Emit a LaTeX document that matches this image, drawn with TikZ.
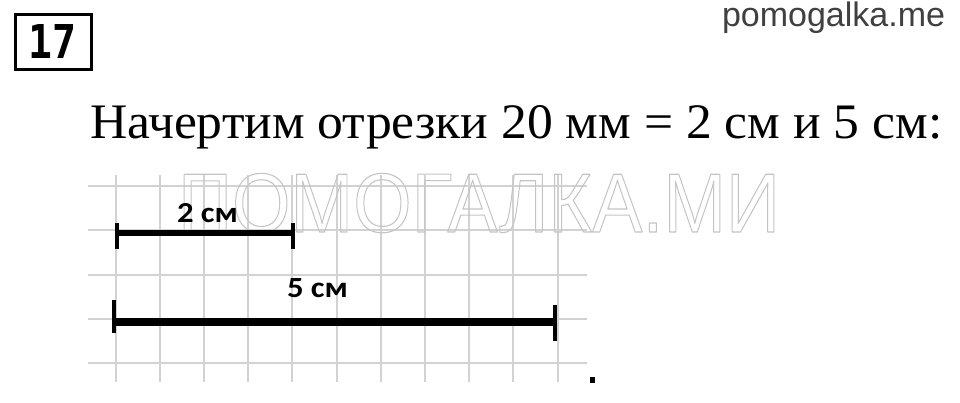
\documentclass[tikz,border=0pt]{standalone}
\usepackage{fontspec}
\setmainfont{Liberation Serif}
\newfontfamily\wmfont{Liberation Sans}
\newfontfamily\labfont{Carlito}
\newfontfamily\numfont{DejaVu Sans Mono}
\definecolor{gridgray}{HTML}{D2D2D2}
\definecolor{wmgray}{HTML}{C4C4C4}
\definecolor{sitegray}{HTML}{404040}
\tikzset{
  txt/.style={inner sep=0pt, outer sep=0pt},
  gridline/.style={draw=gridgray, line width=2pt},
  seg/.style={line width=6.5pt},
  tick/.style={line width=4pt},
}
\begin{document}
\begin{tikzpicture}[x=1pt,y=-1pt]
\useasboundingbox[fill=white] (0,0) rectangle (960,402);
% grid
\foreach \k in {0,...,10} {
  \draw[gridline] ({115.5+44.2*\k},175) -- ({115.5+44.2*\k},382);
}
\foreach \k in {0,...,4} {
  \draw[gridline] (88,{186+44.25*\k}) -- (587,{186+44.25*\k});
}
% watermark
\node[txt, anchor=base west] (wm) at (178,232)
  {\scalebox{0.895}[1]{\color{wmgray}\special{pdf:code 1 Tr 1.1 w 1 j}\wmfont\fontsize{84pt}{84pt}\selectfont ПОМОГАЛКА.МИ\special{pdf:code 0 Tr}}};
% number box
\node[txt, draw, line width=3pt, minimum width=76pt, minimum height=55pt] (num) at (53,41.5)
  {\resizebox{48pt}{34pt}{\numfont\bfseries 17}};
% site
\node[txt, anchor=base west, text=sitegray] (site) at (722,26)
  {\wmfont\fontsize{34pt}{34pt}\selectfont pomogalka.me};
% title
\node[txt, anchor=base west] (title) at (90,138)
  {\resizebox{852pt}{33pt}{Начертим отрезки 20 мм = 2 см и 5 см:}};
% segment 1
\coordinate (a1) at (117,233);
\coordinate (b1) at (293,233);
\draw[seg] (a1) -- (b1);
\draw[tick] (117,223) -- (117,249);
\draw[tick] (293,223) -- (293,249);
\node[txt, anchor=base west] (l1) at (177,222)
  {\resizebox{61pt}{19pt}{\labfont\bfseries 2 см}};
% segment 2
\coordinate (a2) at (114,322);
\coordinate (b2) at (555,322);
\draw[seg, line width=7.5pt] (a2) -- (b2);
\draw[tick] (114,300) -- (114,333);
\draw[tick] (555,305) -- (555,341);
\node[txt, anchor=base west] (l2) at (287,297)
  {\resizebox{61pt}{19pt}{\labfont\bfseries 5 см}};
% final dot
\node[fill=black, inner sep=0pt, minimum size=5.5pt] (dot) at (592.5,380) {};
\end{tikzpicture}
\end{document}
